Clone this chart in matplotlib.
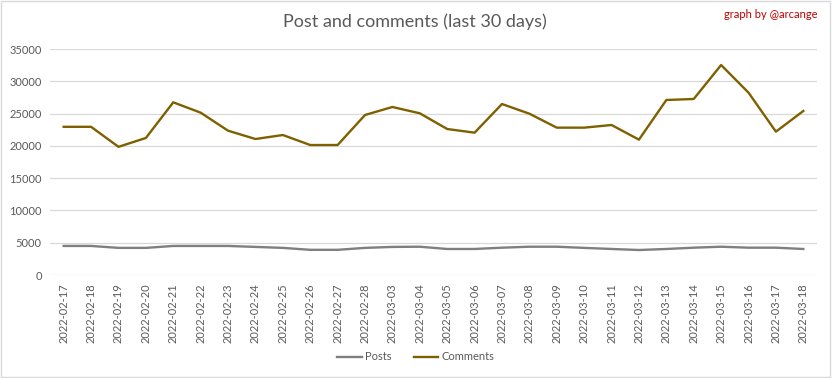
import matplotlib
matplotlib.use("Agg")
import matplotlib.pyplot as plt

plt.rcParams['font.family'] = ['Lato', 'DejaVu Sans']

dates = ['2022-02-17', '2022-02-18', '2022-02-19', '2022-02-20', '2022-02-21',
         '2022-02-22', '2022-02-23', '2022-02-24', '2022-02-25', '2022-02-26',
         '2022-02-27', '2022-02-28', '2022-03-03', '2022-03-04', '2022-03-05',
         '2022-03-06', '2022-03-07', '2022-03-08', '2022-03-09', '2022-03-10',
         '2022-03-11', '2022-03-12', '2022-03-13', '2022-03-14', '2022-03-15',
         '2022-03-16', '2022-03-17', '2022-03-18']

posts = [4500, 4500, 4200, 4200, 4500, 4500, 4500, 4350, 4200, 3900,
         3900, 4200, 4350, 4380, 4030, 4030, 4230, 4380, 4380, 4200,
         4030, 3870, 4030, 4230, 4380, 4230, 4230, 4030]

comments = [22950, 22950, 19850, 21220, 26740, 25140, 22350, 21060, 21680, 20130,
            20130, 24780, 26020, 25040, 22610, 22040, 26480, 24980, 22820, 22820,
            23230, 20960, 27100, 27260, 32520, 28240, 22200, 25400]

fig = plt.figure(figsize=(8.32, 3.78), dpi=100)
ax = fig.add_axes([50 / 832, 1 - 275 / 378, 767 / 832, 226 / 378])

x = list(range(len(dates)))
ax.plot(x, posts, color='#7f7f7f', lw=1.7, label='Posts')
ax.plot(x, comments, color='#7f6000', lw=1.7, label='Comments')

ax.set_xlim(-0.5, len(dates) - 0.5)
ax.set_ylim(0, 35000)
ax.set_yticks(range(0, 35001, 5000))
ax.set_xticks(x)
ax.set_xticklabels(dates, rotation=90)
ax.tick_params(axis='both', length=0, labelsize=8, colors='#595959', pad=6)
ax.grid(axis='y', color='#d9d9d9', lw=0.9)
ax.set_axisbelow(True)
for s in ax.spines.values():
    s.set_visible(False)

fig.text(0.499, 1 - 22 / 378, 'Post and comments (last 30 days)', ha='center', va='center',
         fontsize=13, color='#595959')
fig.text(818 / 832, 1 - 15 / 378, 'graph by @arcange', ha='right', va='center',
         fontsize=8, color='#c00000')

fig.legend(loc='center', bbox_to_anchor=(0.5, 1 - 357 / 378), ncol=2, frameon=False,
           fontsize=8, labelcolor='#595959', handlelength=2.2, columnspacing=2.0, handletextpad=0.3)

border = plt.Rectangle((0.001, 0.002), 0.997, 0.995, transform=fig.transFigure,
                       fill=False, edgecolor='#d9d9d9', lw=1)
fig.add_artist(border)

fig.savefig('out.png', dpi=100)
